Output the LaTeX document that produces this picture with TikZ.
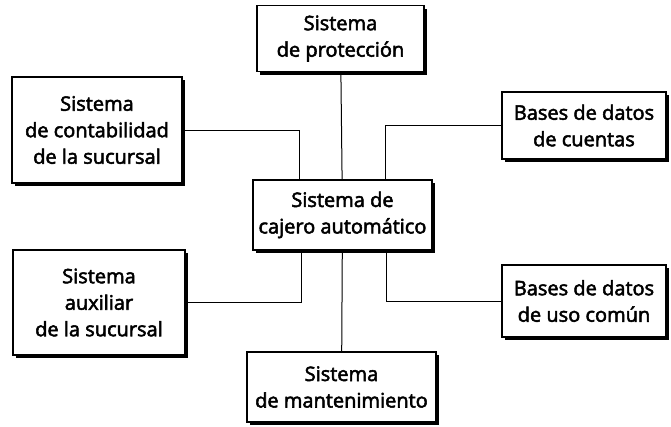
\documentclass[tikz,border=0pt]{standalone}
\usepackage{fontspec}
\setmainfont{Open Sans}[FakeBold=2.6]
\usetikzlibrary{shadows,calc}

\begin{document}
\begin{tikzpicture}[x=1pt, y=-1pt,
  sysbox/.style={draw, rectangle, fill=white, line width=1.3pt, inner sep=2pt,
                 align=center, font=\fontsize{20}{26.5}\selectfont,
                 drop shadow={shadow xshift=3pt, shadow yshift=-3pt, fill=black, opacity=1}},
  conn/.style={line width=1pt},
]
\useasboundingbox (0,0) rectangle (671,426);
\node[sysbox, minimum width=167pt, minimum height=66pt] (prot) at (340.5,38.5) {Sistema \\ de protección};
\node[sysbox, minimum width=170pt, minimum height=106pt] (conta) at (97,130) {Sistema \\ de contabilidad \\ de la sucursal};
\node[sysbox, minimum width=164pt, minimum height=67pt] (cuentas) at (584,125.5) {Bases de datos \\ de cuentas};
\node[sysbox, minimum width=179pt, minimum height=70pt] (cajero) at (342.5,215) {Sistema de \\ cajero automático};
\node[sysbox, minimum width=172pt, minimum height=105pt] (aux) at (99,302.5) {Sistema \\ auxiliar \\ de la sucursal};
\node[sysbox, minimum width=164pt, minimum height=72pt] (uso) at (584,301) {Bases de datos \\ de uso común};
\node[sysbox, minimum width=189pt, minimum height=70pt] (mant) at (341.5,387) {Sistema \\ de mantenimiento};
% conexiones
\draw[conn] (prot) -- (cajero);
\draw[conn] (cajero) -- (mant);
\draw[conn] (conta.east) -| ([xshift=47pt]cajero.north west);
\draw[conn] (cuentas.west) -| ([xshift=-47pt]cajero.north east);
\draw[conn] (aux.east) -| ([xshift=49pt]cajero.south west);
\draw[conn] (uso.west) -| ([xshift=-46pt]cajero.south east);
\end{tikzpicture}
\end{document}
